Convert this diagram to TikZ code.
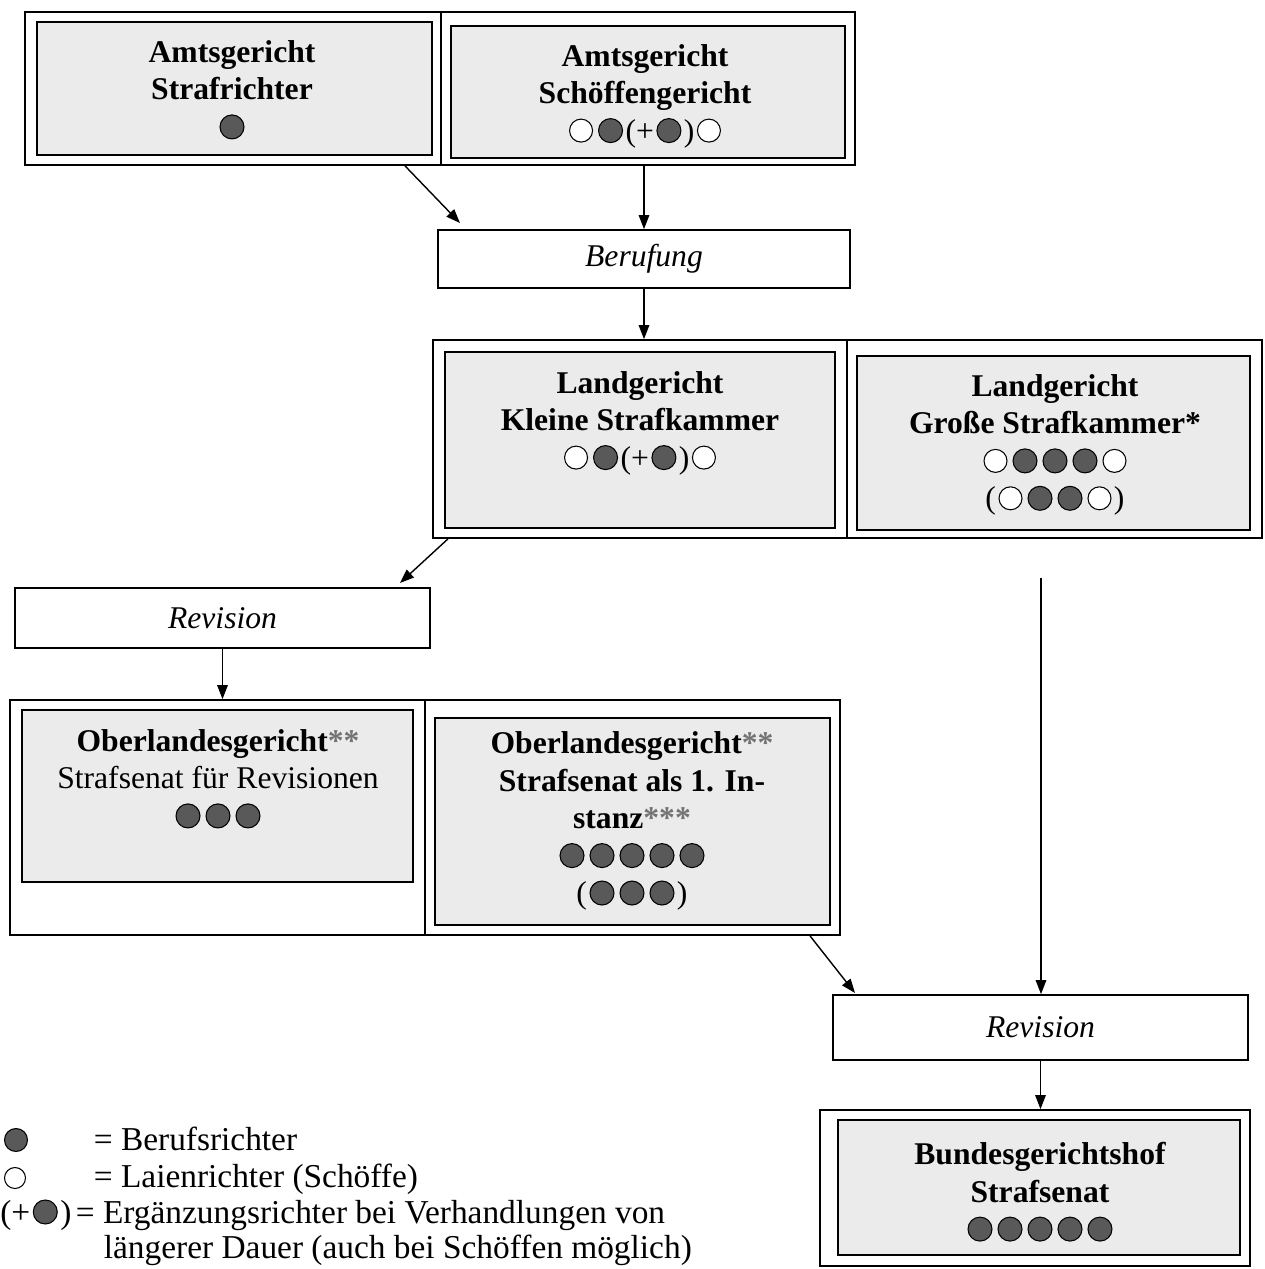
\documentclass[tikz,border=0pt]{standalone}
\usepackage{fontspec}
\setmainfont{Liberation Serif}
\usetikzlibrary{arrows.meta}

% judges as small discs
\newcommand{\bj}{\tikz[baseline=-0.33em]{\path (-0.3cm,0) (0.3cm,0); \draw[line width=0.6pt,fill=black!65] (0,0) circle (0.24cm);}}
\newcommand{\lj}{\tikz[baseline=-0.33em]{\path (-0.29cm,0) (0.29cm,0); \draw[line width=0.6pt,fill=white] (0,0) circle (0.23cm);}}
\newcommand{\st}[1]{\textcolor{black!55}{#1}}

\begin{document}
\begin{tikzpicture}[x=0.02cm, y=-0.02cm, line width=1pt,
    instbox/.style={draw, inner sep=0pt},
    courtbox/.style={draw, fill=black!8, inner sep=0pt},
    courttext/.style={font=\fontsize{18}{21.3}\selectfont\bfseries, align=center},
    remedybox/.style={draw, fill=white, inner sep=0pt, font=\fontsize{18}{21.3}\selectfont\itshape},
    legtext/.style={font=\fontsize{19}{22}\selectfont, inner sep=0pt, anchor=base west},
    arr/.style={-{Triangle[length=8pt,width=6pt]}, line width=0.8pt}]
  \useasboundingbox (0,0) rectangle (1265,1269);
  \clip (0,0) rectangle (1265,1269);

  % Amtsgericht
  \node[instbox, minimum width=16.6cm, minimum height=3.06cm] (f1) at (440,88.5) {};
  \draw (441,12) -- (441,165);
  \node[courtbox, minimum width=7.9cm, minimum height=2.66cm] (asr) at (234.5,88.5) {};
  \node[courtbox, minimum width=7.88cm, minimum height=2.64cm] (asch) at (648,92) {};
  \node[courttext] (asrT) at (232,90) {Amtsgericht\\Strafrichter\\\bj};
  \node[courttext] (aschT) at (645,96) {Amtsgericht\\Schöffengericht\\\textmd{\lj\bj(+\bj)\lj}};

  \node[remedybox, minimum width=8.24cm, minimum height=1.16cm] (ber) at (644,259) {Berufung};

  % Landgericht
  \node[instbox, minimum width=16.58cm, minimum height=3.96cm] (f2) at (847.5,439) {};
  \draw (847,340) -- (847,538);
  \node[courtbox, minimum width=7.8cm, minimum height=3.52cm] (lgk) at (640,440) {};
  \node[courtbox, minimum width=7.86cm, minimum height=3.48cm] (lgg) at (1053.5,443) {};
  \node[courttext] (lgkT) at (640,423) {Landgericht\\Kleine Strafkammer\\\textmd{\lj\bj(+\bj)\lj}};
  \node[courttext] (lggT) at (1055,445) {Landgericht\\Große Strafkammer*\\\lj\bj\bj\bj\lj\\\textmd{(\lj\bj\bj\lj)}};

  \node[remedybox, minimum width=8.3cm, minimum height=1.2cm] (rev1) at (222.5,618) {Revision};

  % Oberlandesgericht
  \node[instbox, minimum width=16.6cm, minimum height=4.7cm] (f3) at (425,817.5) {};
  \draw (425,700) -- (425,935);
  \node[courtbox, minimum width=7.82cm, minimum height=3.44cm] (olgr) at (217.5,796) {};
  \node[courtbox, minimum width=7.9cm, minimum height=4.14cm] (olgi) at (632.5,821.5) {};
  \node[courttext] (olgrT) at (218,779) {Oberlandesgericht\st{**}\\\textmd{Strafsenat für Revisionen}\\\bj\bj\bj};
  \node[courttext] (olgiT) at (632,821) {Oberlandesgericht\st{**}\\Strafsenat als 1. In-\\stanz\st{***}\\\bj\bj\bj\bj\bj\\\textmd{(\bj\bj\bj)}};

  \node[remedybox, minimum width=8.3cm, minimum height=1.3cm] (rev2) at (1040.5,1027.5) {Revision};

  % Bundesgerichtshof
  \node[instbox, minimum width=8.6cm, minimum height=3.12cm] (f4) at (1035,1188) {};
  \node[courtbox, minimum width=8.04cm, minimum height=2.7cm] (bgh) at (1039,1187.5) {};
  \node[courttext] (bghT) at (1040,1192) {Bundesgerichtshof\\Strafsenat\\\bj\bj\bj\bj\bj};

  % arrows
  \coordinate (a1) at (405,0);
  \coordinate (a1e) at (460,223);
  \coordinate (a4) at (448,0);
  \coordinate (a4e) at (400,583);
  \coordinate (a6) at (810,0);
  \coordinate (a6e) at (855,993);
  \coordinate (gk) at (1041,578);
  \draw[arr] (f1.south -| a1) -- (a1e);
  \draw[arr] (ber.north |- f1.south) -- (ber.north);
  \draw[arr] (ber.south) -- (ber.south |- f2.north);
  \draw[arr] (f2.south -| a4) -- (a4e);
  \draw[arr] (rev1.south) -- (rev1.south |- f3.north);
  \draw[arr] (f3.south -| a6) -- (a6e);
  \draw[arr] (gk) -- (gk |- rev2.north);
  \draw[arr] (rev2.south) -- (rev2.south |- f4.north);

  % legend
  \node[circle, draw, fill=black!65, line width=0.6pt, minimum size=0.46cm, inner sep=0pt] (lgB) at (16,1140) {};
  \node[circle, draw, fill=white, line width=0.6pt, minimum size=0.42cm, inner sep=0pt] (lgL) at (15,1178) {};
  \node[legtext] (lgBT) at (93,1150) {= Berufsrichter};
  \node[legtext] (lgLT) at (93,1187) {= Laienrichter (Schöffe)};
  \node[legtext] (lgE) at (0,1223) {(+\bj)};
  \node[legtext] (lgET) at (75,1223) {= Ergänzungsrichter bei Verhandlungen von};
  \node[legtext] (lgET2) at (103,1258) {längerer Dauer (auch bei Schöffen möglich)};
\end{tikzpicture}
\end{document}
